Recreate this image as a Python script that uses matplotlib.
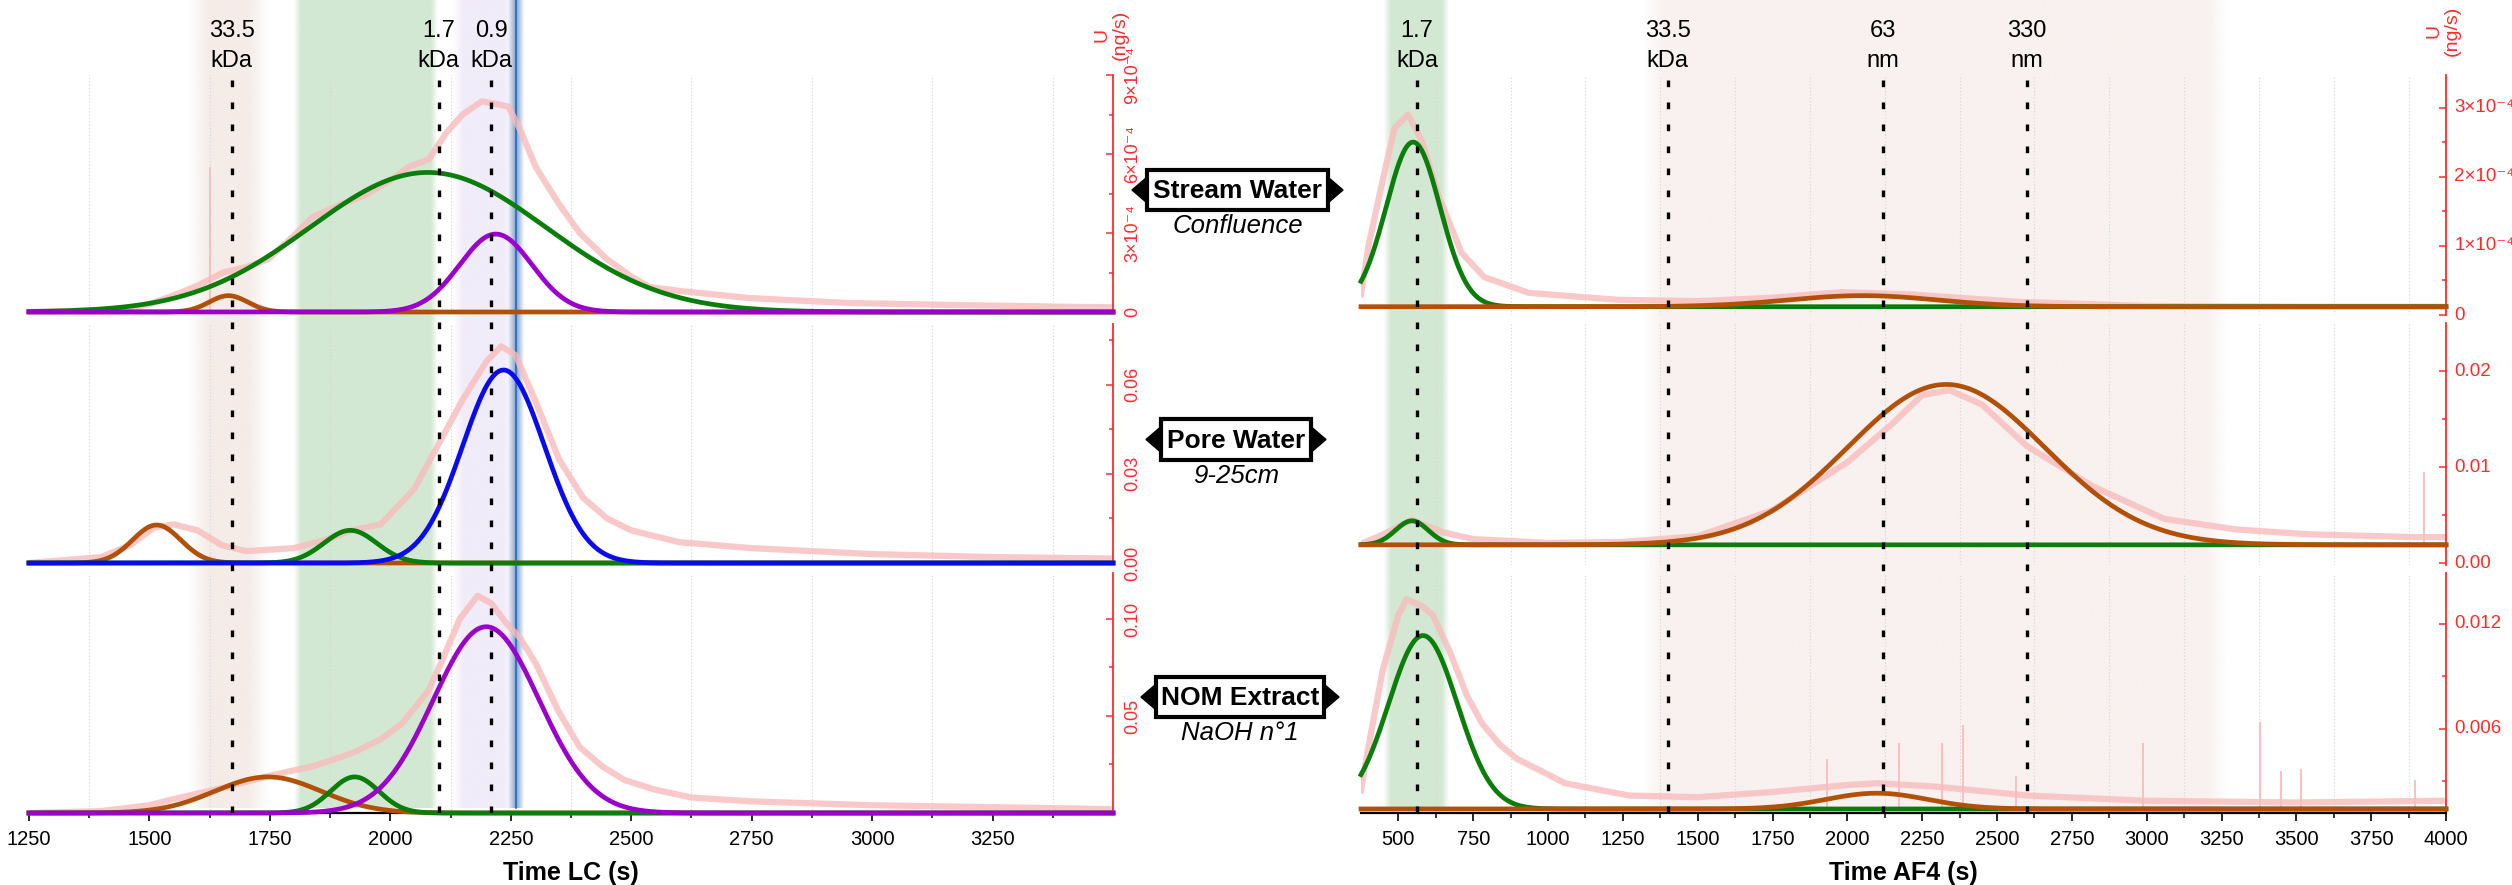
import numpy as np
import matplotlib
matplotlib.use("Agg")
import matplotlib.pyplot as plt
from matplotlib.colors import to_rgb
from matplotlib.patches import Rectangle, Polygon
from matplotlib.ticker import FixedLocator

W, H = 2512, 885
plt.rcParams['font.family'] = ['Liberation Sans', 'DejaVu Sans']

RED = '#ff2b2b'
PINK = '#f8bcbc'
COLORS = {'brown': '#b25008', 'green': '#0a7d0a', 'purple': '#9a00c9', 'blue': '#0a0aee'}

# ---------------- LC side ----------------
lc_marks = [1671, 2100, 2209]
lc_nums = ['33.5', '1.7', '0.9']
lc_units = ['kDa', 'kDa', 'kDa']
lc_ref = 2261
lc_xticks = [1250, 1500, 1750, 2000, 2250, 2500, 2750, 3000, 3250]

# stream water, confluence
lc_sw_t = [1250, 1450, 1500, 1560, 1600, 1653, 1700, 1746, 1800, 1838, 1900, 1944, 2000, 2037,
           2080, 2116, 2150, 2190, 2220, 2245, 2270, 2302, 2350, 2393, 2450, 2500, 2538, 2600,
           2745, 2953, 3160, 3436, 3500]
lc_sw_u = [0.0, 0.1e-4, 0.3e-4, 0.7e-4, 1.0e-4, 1.5e-4, 1.7e-4, 2.0e-4, 2.9e-4, 3.6e-4, 4.1e-4,
           4.4e-4, 5.0e-4, 5.5e-4, 5.8e-4, 6.8e-4, 7.5e-4, 8.0e-4, 7.9e-4, 7.8e-4, 6.9e-4, 5.5e-4,
           4.1e-4, 3.0e-4, 2.0e-4, 1.35e-4, 0.95e-4, 0.8e-4, 0.53e-4, 0.34e-4, 0.27e-4, 0.19e-4,
           0.18e-4]
lc_sw_spk_t = [1626]
lc_sw_spk_u = [5.5e-4]
lc_sw_peaks = [('brown', 1664, 0.62e-4, 40), ('green', 2078, 5.3e-4, 245),
               ('purple', 2219, 2.96e-4, 75)]

# pore water 9-25 cm
lc_pw_t = [1250, 1400, 1460, 1510, 1550, 1600, 1650, 1700, 1800, 1870, 1920, 1980, 2050, 2100,
           2150, 2200, 2230, 2260, 2300, 2350, 2400, 2450, 2500, 2600, 2750, 3000, 3250, 3500]
lc_pw_u = [0.0, 0.002, 0.006, 0.012, 0.013, 0.011, 0.006, 0.004, 0.005, 0.008, 0.011, 0.013,
           0.025, 0.04, 0.055, 0.068, 0.073, 0.07, 0.055, 0.035, 0.022, 0.015, 0.011, 0.007,
           0.005, 0.003, 0.002, 0.0015]
lc_pw_spk_t = []
lc_pw_spk_u = []
lc_pw_peaks = [('brown', 1515, 0.0128, 50), ('green', 1917, 0.011, 55), ('blue', 2235, 0.065, 85)]

# NOM extract NaOH n°1
lc_nom_t = [1250, 1400, 1500, 1547, 1600, 1653, 1700, 1746, 1800, 1838, 1900, 1931, 1980, 2024,
            2079, 2110, 2144, 2181, 2210, 2240, 2270, 2302, 2350, 2393, 2440, 2486, 2550, 2625,
            2750, 3000, 3250, 3500]
lc_nom_u = [0.0, 0.001, 0.004, 0.007, 0.01, 0.013, 0.016, 0.019, 0.022, 0.024, 0.029, 0.032,
            0.038, 0.046, 0.063, 0.08, 0.1, 0.112, 0.108, 0.098, 0.09, 0.077, 0.052, 0.034,
            0.024, 0.017, 0.012, 0.008, 0.006, 0.004, 0.003, 0.002]
lc_nom_spk_t = []
lc_nom_spk_u = []
lc_nom_peaks = [('brown', 1746, 0.0186, 110), ('green', 1926, 0.0186, 50),
                ('purple', 2199, 0.096, 110)]

# ---------------- AF4 side ----------------
af_marks = [562, 1400, 2118, 2599]
af_nums = ['1.7', '33.5', '63', '330']
af_units = ['kDa', 'kDa', 'nm', 'nm']
af_xticks = [500, 750, 1000, 1250, 1500, 1750, 2000, 2250, 2500, 2750, 3000, 3250, 3500, 3750, 4000]

af_sw_t = [375, 400, 450, 487, 532, 580, 636, 711, 786, 935, 1233, 1500, 1750, 1978, 2200, 2575,
           3000, 3500, 4000]
af_sw_u = [0.3e-4, 1.0e-4, 2.0e-4, 2.7e-4, 2.9e-4, 2.5e-4, 1.7e-4, 0.9e-4, 0.55e-4, 0.32e-4,
           0.22e-4, 0.2e-4, 0.25e-4, 0.33e-4, 0.3e-4, 0.19e-4, 0.13e-4, 0.12e-4, 0.12e-4]
af_sw_spk_t = []
af_sw_spk_u = []
af_sw_base = 0.12e-4
af_sw_peaks = [('green', 549, 2.38e-4, 90), ('brown', 2051, 0.16e-4, 250)]

af_pw_t = [375, 450, 545, 650, 750, 1000, 1250, 1500, 1750, 2000, 2150, 2250, 2342, 2450, 2599,
           2819, 3059, 3300, 3538, 3897, 4000]
af_pw_u = [0.002, 0.003, 0.0045, 0.0032, 0.0025, 0.0021, 0.0022, 0.0028, 0.0055, 0.0105, 0.0145,
           0.0175, 0.018, 0.0165, 0.0122, 0.008, 0.0046, 0.0035, 0.003, 0.0027, 0.0027]
af_pw_spk_t = [3927]
af_pw_spk_u = [0.0095]
af_pw_base = 0.0019
af_pw_peaks = [('green', 545, 0.0025, 55), ('brown', 2330, 0.0167, 330)]

af_nom_t = [375, 400, 448, 500, 527, 580, 615, 672, 729, 780, 839, 895, 1000, 1056, 1270, 1500,
            1750, 2000, 2100, 2300, 2600, 3000, 3500, 4000]
af_nom_u = [0.0025, 0.005, 0.0094, 0.0125, 0.0134, 0.013, 0.0125, 0.0104, 0.0079, 0.0063,
            0.0051, 0.0043, 0.0034, 0.0029, 0.0022, 0.0021, 0.0024, 0.0028, 0.0029, 0.0027,
            0.0022, 0.0019, 0.0018, 0.0019]
af_nom_spk_t = [1931, 2171, 2315, 2385, 2562, 2989, 3377, 3450, 3514, 3898]
af_nom_spk_u = [0.0043, 0.0052, 0.0052, 0.0062, 0.0033, 0.0052, 0.0064, 0.0036, 0.0037, 0.0031]
af_nom_base = 0.00143
af_nom_peaks = [('green', 582, 0.0099, 115), ('brown', 2098, 0.0009, 170)]

sample_names = ['Stream Water', 'Pore Water', 'NOM Extract']
sample_notes = ['Confluence', '9-25cm', 'NaOH n°1']

fig = plt.figure(figsize=(W / 100, H / 100), dpi=100)


def rect(x0, y0, x1, y1):
    return [x0 / W, 1 - y1 / H, (x1 - x0) / W, (y1 - y0) / H]


def soft_band(ax, xlim, a, b, fade, color, bottom=808):
    xs = np.linspace(xlim[0], xlim[1], 4000)
    rgba = np.zeros((1, xs.size, 4))
    rgba[..., :3] = to_rgb(color)
    rgba[0, :, 3] = np.clip(np.minimum(xs - a, b - xs) / fade, 0, 1)
    ax.imshow(rgba, extent=(xlim[0], xlim[1], bottom, 0), aspect='auto',
              interpolation='bilinear', zorder=0)


def column(x0, x1, xlim, bands, marks, nums, units, rows, panels, axes_cfg,
           xticks, xlabel, rot, ysize, ypad):
    bg = fig.add_axes(rect(x0, 0, x1, 813), zorder=0)
    for a, b, fade, col in bands:
        soft_band(bg, xlim, a, b, fade, col)
    bg.set_xlim(xlim)
    bg.set_ylim(813, 0)
    bg.axis('off')

    grid = [g for g in np.arange(125, 4001, 250) if xlim[0] < g < xlim[1]]
    tt = np.linspace(xlim[0], xlim[1], 1500)

    for i, ((ytop, ybot), (t, u, st, su, base, peaks), (ylim, yt, yl, ymin)) in enumerate(
            zip(rows, panels, axes_cfg)):
        ax = fig.add_axes(rect(x0, ytop, x1, ybot), zorder=1)
        ax.set_facecolor('none')
        for g in grid:
            ax.axvline(g, color='#d4d4d4', lw=0.8, ls=(0, (1, 2)), zorder=0)
        ax.plot(t, u, color=PINK, lw=4.5, alpha=0.8, solid_joinstyle='round', zorder=1)
        if st:
            ax.vlines(st, base, su, color=PINK, lw=1.3, zorder=1)
        for name, c, h, s in peaks:
            ax.plot(tt, base + h * np.exp(-0.5 * ((tt - c) / s) ** 2), color=COLORS[name],
                    lw=3.4, clip_on=False, zorder=3)
        ax.set_xlim(xlim)
        ax.set_ylim(ylim)
        for side in ('top', 'left', 'bottom'):
            ax.spines[side].set_visible(False)
        ax.spines['right'].set_color(RED)
        ax.spines['right'].set_linewidth(1.3)
        ax.yaxis.tick_right()
        ax.set_yticks(yt)
        ax.set_yticklabels(yl, color=RED, fontsize=ysize, rotation=rot,
                           va='center', ha='left')
        ax.yaxis.set_minor_locator(FixedLocator(ymin))
        ax.tick_params(axis='y', which='major', direction='in', length=5, width=1.1,
                       color=RED, pad=ypad)
        ax.tick_params(axis='y', which='minor', direction='in', length=3, width=1.1,
                       color=RED)
        if i < len(rows) - 1:
            ax.tick_params(axis='x', which='both', bottom=False, labelbottom=False)
        else:
            ax.spines['bottom'].set_visible(True)
            ax.spines['bottom'].set_color('black')
            ax.spines['bottom'].set_linewidth(1.6)
            ax.set_xticks(xticks)
            ax.set_xticklabels([str(v) for v in xticks], fontsize=14.5)
            ax.xaxis.set_minor_locator(FixedLocator(grid))
            ax.tick_params(axis='x', which='major', direction='out', length=6, width=1.2, pad=6)
            ax.tick_params(axis='x', which='minor', direction='out', length=3.5, width=1.1)
            ax.set_xlabel(xlabel, fontsize=18, fontweight='bold', labelpad=9)

    fg = fig.add_axes(rect(x0, 0, x1, 813), zorder=2)
    fg.set_facecolor('none')
    fg.set_xlim(xlim)
    fg.set_ylim(813, 0)
    fg.axis('off')
    for m, n, un in zip(marks, nums, units):
        fg.plot([m, m], [80, 813], color='black', lw=2.4, ls=(0, (2.0, 4.6)), zorder=5)
        fg.text(m, 31, n, ha='center', va='center', fontsize=17)
        fg.text(m, 61, un, ha='center', va='center', fontsize=17)
    return bg, fg


rows_l = [(75, 312), (324, 563), (573, 813)]
rows_r = [(75, 315), (323, 565), (573, 813)]

lc_panels = [(lc_sw_t, lc_sw_u, lc_sw_spk_t, lc_sw_spk_u, 0.0, lc_sw_peaks),
             (lc_pw_t, lc_pw_u, lc_pw_spk_t, lc_pw_spk_u, 0.0, lc_pw_peaks),
             (lc_nom_t, lc_nom_u, lc_nom_spk_t, lc_nom_spk_u, 0.0, lc_nom_peaks)]
lc_axes = [((0, 9e-4), [0, 3e-4, 6e-4, 9e-4], ['0', '3×10⁻⁴', '6×10⁻⁴', '9×10⁻⁴'],
            [1.5e-4, 4.5e-4, 7.5e-4]),
           ((0, 0.0805), [0, 0.03, 0.06], ['0.00', '0.03', '0.06'], [0.015, 0.045, 0.075]),
           ((0, 0.1237), [0.05, 0.10], ['0.05', '0.10'], [0.025, 0.075])]

af_panels = [(af_sw_t, af_sw_u, af_sw_spk_t, af_sw_spk_u, af_sw_base, af_sw_peaks),
             (af_pw_t, af_pw_u, af_pw_spk_t, af_pw_spk_u, af_pw_base, af_pw_peaks),
             (af_nom_t, af_nom_u, af_nom_spk_t, af_nom_spk_u, af_nom_base, af_nom_peaks)]
af_axes = [((0, 3.47e-4), [0, 1e-4, 2e-4, 3e-4], ['0', '1×10⁻⁴', '2×10⁻⁴', '3×10⁻⁴'],
            [0.5e-4, 1.5e-4, 2.5e-4]),
           ((-0.0002, 0.025), [0, 0.01, 0.02], ['0.00', '0.01', '0.02'], [0.005, 0.015]),
           ((0.0012, 0.0149), [0.006, 0.012], ['0.006', '0.012'], [0.003, 0.009])]

lc_bands = [(1580, 1750, 45, '#f5ece8'), (1800, 2098, 14, '#d3e8d3'),
            (2130, 2258, 22, '#f1ecf9'), (2244, 2278, 15, '#8ea9d0')]
af_bands = [(450, 670, 25, '#d3e8d3'), (1320, 3270, 70, '#f8f1ef')]

bg_l, fg_l = column(29, 1113, (1250, 3500), lc_bands, lc_marks, lc_nums, lc_units, rows_l,
                    lc_panels, lc_axes, lc_xticks, 'Time LC (s)', 90, 13, 8)
bg_l.plot([lc_ref, lc_ref], [0, 808], color='#1f6cc0', lw=1.2, zorder=1)

bg_r, fg_r = column(1361, 2446, (375, 4000), af_bands, af_marks, af_nums, af_units, rows_r,
                    af_panels, af_axes, af_xticks, 'Time AF4 (s)', 0, 13.5, 6)

# sample tags between the two columns
ov = fig.add_axes([0, 0, 1, 1], zorder=5)
ov.set_xlim(0, W)
ov.set_ylim(H, 0)
ov.axis('off')
tags = [(1147, 1328, 170, 210), (1161, 1311, 419, 460), (1156, 1324, 677, 717)]
for (bx0, bx1, by0, by1), name, note in zip(tags, sample_names, sample_notes):
    yc = (by0 + by1) / 2
    ov.add_patch(Rectangle((bx0, by0), bx1 - bx0, by1 - by0, fc='white', ec='black', lw=3))
    ov.add_patch(Polygon([(bx0 - 1, yc - 12), (bx0 - 1, yc + 12), (bx0 - 15, yc)], color='black'))
    ov.add_patch(Polygon([(bx1 + 1, yc - 12), (bx1 + 1, yc + 12), (bx1 + 15, yc)], color='black'))
    ov.text((bx0 + bx1) / 2, yc + 1, name, ha='center', va='center', fontsize=19,
            fontweight='bold')
    ov.text((bx0 + bx1) / 2, by1 + 16, note, ha='center', va='center', fontsize=18.5,
            style='italic')

ov.text(1111, 35, 'U\n(ng/s)', rotation=90, color=RED, fontsize=14, ha='center',
        va='center', multialignment='center', linespacing=1.05)
ov.text(2443, 31, 'U\n(ng/s)', rotation=90, color=RED, fontsize=14, ha='center',
        va='center', multialignment='center', linespacing=1.05)

fig.savefig('out.png', dpi=100)
